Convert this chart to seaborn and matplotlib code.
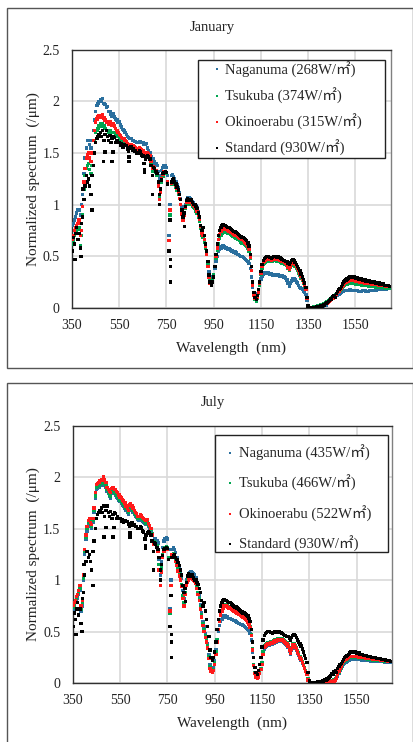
import numpy as np
import pandas as pd
import matplotlib
matplotlib.use("Agg")
import matplotlib.pyplot as plt
from matplotlib.patches import Rectangle
from matplotlib.lines import Line2D
import seaborn as sns

# Wavelength grid (nm), one sample every 5 nm
WAVELENGTH = list(range(350, 1701, 5))

# Normalized spectra (/um); each row covers 100 nm
STANDARD = [
    0.55, 0.68, 0.62, 0.72, 0.78, 0.66, 0.72, 0.58, 0.82, 0.88, 1.05, 1.18, 1.28, 1.22, 1.25, 1.18, 1.10, 1.28, 1.38, 1.50,
    1.60, 1.64, 1.66, 1.68, 1.70, 1.66, 1.72, 1.62, 1.68, 1.72, 1.66, 1.62, 1.67, 1.60, 1.64, 1.66, 1.65, 1.60, 1.62, 1.60,
    1.60, 1.57, 1.59, 1.56, 1.58, 1.57, 1.57, 1.54, 1.52, 1.55, 1.56, 1.53, 1.54, 1.52, 1.52, 1.50, 1.50, 1.52, 1.51, 1.48,
    1.47, 1.40, 1.44, 1.46, 1.47, 1.46, 1.44, 1.38, 1.28, 1.36, 1.35, 1.32, 1.30, 1.22, 1.10, 1.15, 1.24, 1.30, 1.31, 1.32,
    1.31, 1.20, 0.55, 0.85, 1.22, 1.24, 1.25, 1.22, 1.20, 1.17, 1.14, 1.10, 1.05, 0.95, 0.88, 0.92, 0.98, 1.04, 1.06, 1.05,
    1.04, 1.05, 1.02, 1.00, 1.00, 0.98, 0.96, 0.92, 0.88, 0.80, 0.75, 0.78, 0.70, 0.62, 0.55, 0.45, 0.32, 0.25, 0.22, 0.25,
    0.30, 0.40, 0.52, 0.62, 0.70, 0.75, 0.78, 0.80, 0.81, 0.80, 0.80, 0.79, 0.78, 0.78, 0.77, 0.76, 0.75, 0.74, 0.74, 0.73,
    0.72, 0.71, 0.70, 0.69, 0.68, 0.68, 0.67, 0.66, 0.65, 0.63, 0.60, 0.52, 0.40, 0.25, 0.15, 0.10, 0.08, 0.12, 0.18, 0.25,
    0.35, 0.42, 0.46, 0.48, 0.49, 0.50, 0.50, 0.49, 0.49, 0.48, 0.49, 0.50, 0.50, 0.49, 0.49, 0.50, 0.49, 0.48, 0.47, 0.46,
    0.46, 0.45, 0.45, 0.43, 0.42, 0.44, 0.46, 0.47, 0.46, 0.44, 0.42, 0.40, 0.38, 0.36, 0.33, 0.30, 0.27, 0.24, 0.20, 0.10,
    0.02, 0.00, 0.00, 0.00, 0.00, 0.00, 0.00, 0.01, 0.01, 0.01, 0.01, 0.02, 0.02, 0.03, 0.03, 0.04, 0.05, 0.06, 0.07, 0.09,
    0.08, 0.11, 0.12, 0.10, 0.14, 0.16, 0.18, 0.19, 0.21, 0.23, 0.25, 0.26, 0.27, 0.28, 0.29, 0.30, 0.30, 0.30, 0.30, 0.30,
    0.29, 0.29, 0.29, 0.28, 0.28, 0.28, 0.27, 0.27, 0.27, 0.26, 0.26, 0.26, 0.26, 0.25, 0.25, 0.25, 0.25, 0.24, 0.24, 0.24,
    0.24, 0.23, 0.23, 0.23, 0.23, 0.22, 0.22, 0.22, 0.22, 0.21, 0.21,
]

# Isolated deep points of the standard spectrum (absorption lines)
STANDARD_LINES_WL = [363, 388, 397, 435, 482, 490, 520, 524, 592, 592, 656, 656, 690, 720, 766, 766, 766, 826]
STANDARD_LINES_VAL = [0.47, 0.50, 1.15, 0.95, 1.42, 1.51, 1.42, 1.51, 1.46, 1.42, 1.34, 1.31, 1.10, 1.00, 0.47, 0.40, 0.25, 0.79]

JAN_NAGANUMA = [
    0.80, 0.82, 0.85, 0.88, 0.92, 0.95, 0.95, 0.90, 1.00, 1.10, 1.30, 1.45, 1.55, 1.62, 1.62, 1.58, 1.55, 1.62, 1.72, 1.82,
    1.90, 1.96, 1.98, 2.00, 2.02, 2.00, 2.03, 1.98, 1.97, 1.94, 1.95, 1.90, 1.90, 1.87, 1.86, 1.88, 1.85, 1.83, 1.82, 1.80,
    1.80, 1.77, 1.75, 1.73, 1.72, 1.70, 1.68, 1.66, 1.65, 1.64, 1.64, 1.62, 1.62, 1.61, 1.61, 1.60, 1.60, 1.61, 1.61, 1.60,
    1.60, 1.58, 1.58, 1.59, 1.55, 1.52, 1.50, 1.46, 1.40, 1.44, 1.42, 1.40, 1.38, 1.32, 1.25, 1.28, 1.33, 1.36, 1.38, 1.38,
    1.36, 1.28, 0.70, 1.00, 1.28, 1.29, 1.27, 1.25, 1.22, 1.19, 1.16, 1.12, 1.06, 0.98, 0.92, 0.96, 1.00, 1.05, 1.07, 1.07,
    1.06, 1.05, 1.03, 1.02, 1.00, 0.99, 0.97, 0.93, 0.88, 0.80, 0.72, 0.70, 0.66, 0.60, 0.52, 0.44, 0.35, 0.30, 0.28, 0.30,
    0.32, 0.38, 0.45, 0.50, 0.55, 0.57, 0.58, 0.59, 0.60, 0.59, 0.58, 0.58, 0.57, 0.57, 0.56, 0.55, 0.55, 0.54, 0.54, 0.53,
    0.52, 0.52, 0.51, 0.50, 0.50, 0.49, 0.48, 0.47, 0.46, 0.45, 0.43, 0.38, 0.30, 0.20, 0.15, 0.13, 0.12, 0.14, 0.16, 0.22,
    0.28, 0.31, 0.33, 0.34, 0.34, 0.34, 0.34, 0.33, 0.33, 0.33, 0.32, 0.32, 0.32, 0.32, 0.32, 0.32, 0.31, 0.31, 0.31, 0.30,
    0.30, 0.29, 0.27, 0.24, 0.21, 0.24, 0.26, 0.28, 0.28, 0.27, 0.25, 0.24, 0.22, 0.20, 0.19, 0.18, 0.16, 0.15, 0.13, 0.07,
    0.01, 0.00, 0.00, 0.00, 0.00, 0.00, 0.00, 0.00, 0.01, 0.01, 0.01, 0.01, 0.02, 0.02, 0.03, 0.03, 0.04, 0.05, 0.06, 0.07,
    0.08, 0.09, 0.10, 0.11, 0.12, 0.12, 0.13, 0.14, 0.15, 0.16, 0.16, 0.17, 0.17, 0.17, 0.17, 0.18, 0.18, 0.17, 0.17, 0.17,
    0.17, 0.17, 0.17, 0.16, 0.16, 0.16, 0.17, 0.17, 0.17, 0.16, 0.16, 0.16, 0.17, 0.17, 0.17, 0.17, 0.17, 0.17, 0.17, 0.18,
    0.18, 0.18, 0.18, 0.18, 0.18, 0.18, 0.18, 0.19, 0.19, 0.19, 0.19,
]
JAN_TSUKUBA = [
    0.62, 0.65, 0.70, 0.72, 0.75, 0.76, 0.78, 0.60, 0.70, 0.90, 1.15, 1.28, 1.35, 1.38, 1.40, 1.34, 1.30, 1.38, 1.50, 1.62,
    1.70, 1.72, 1.74, 1.76, 1.78, 1.76, 1.78, 1.76, 1.74, 1.72, 1.72, 1.70, 1.72, 1.70, 1.70, 1.70, 1.70, 1.68, 1.67, 1.66,
    1.64, 1.63, 1.62, 1.61, 1.60, 1.59, 1.58, 1.57, 1.56, 1.56, 1.56, 1.55, 1.54, 1.53, 1.53, 1.52, 1.51, 1.52, 1.52, 1.50,
    1.49, 1.47, 1.46, 1.47, 1.48, 1.47, 1.45, 1.40, 1.32, 1.35, 1.34, 1.31, 1.28, 1.18, 1.08, 1.14, 1.22, 1.27, 1.30, 1.31,
    1.30, 1.20, 0.55, 0.90, 1.20, 1.22, 1.23, 1.20, 1.17, 1.14, 1.10, 1.06, 1.00, 0.92, 0.85, 0.90, 0.96, 1.00, 1.02, 1.02,
    1.00, 1.00, 0.98, 0.97, 0.96, 0.94, 0.92, 0.88, 0.84, 0.77, 0.70, 0.68, 0.64, 0.58, 0.52, 0.42, 0.32, 0.27, 0.25, 0.28,
    0.32, 0.40, 0.48, 0.56, 0.62, 0.67, 0.70, 0.72, 0.74, 0.74, 0.73, 0.73, 0.72, 0.72, 0.71, 0.70, 0.69, 0.69, 0.68, 0.67,
    0.66, 0.66, 0.65, 0.64, 0.63, 0.63, 0.62, 0.61, 0.60, 0.58, 0.55, 0.48, 0.36, 0.22, 0.12, 0.08, 0.06, 0.09, 0.14, 0.22,
    0.33, 0.38, 0.42, 0.43, 0.44, 0.45, 0.45, 0.45, 0.45, 0.45, 0.45, 0.46, 0.46, 0.45, 0.45, 0.45, 0.45, 0.44, 0.43, 0.43,
    0.42, 0.42, 0.41, 0.38, 0.36, 0.39, 0.41, 0.42, 0.41, 0.40, 0.38, 0.36, 0.34, 0.32, 0.29, 0.27, 0.24, 0.21, 0.18, 0.09,
    0.01, 0.00, 0.00, 0.00, 0.00, 0.01, 0.01, 0.01, 0.02, 0.02, 0.02, 0.03, 0.03, 0.04, 0.04, 0.05, 0.06, 0.07, 0.08, 0.09,
    0.10, 0.11, 0.12, 0.13, 0.14, 0.15, 0.16, 0.17, 0.18, 0.20, 0.21, 0.22, 0.23, 0.23, 0.24, 0.24, 0.24, 0.24, 0.24, 0.24,
    0.23, 0.23, 0.23, 0.23, 0.23, 0.22, 0.22, 0.22, 0.22, 0.22, 0.22, 0.21, 0.21, 0.21, 0.21, 0.21, 0.21, 0.20, 0.20, 0.20,
    0.20, 0.20, 0.20, 0.20, 0.20, 0.19, 0.19, 0.19, 0.19, 0.19, 0.19,
]
JAN_OKINOERABU = [
    0.66, 0.70, 0.75, 0.78, 0.80, 0.82, 0.85, 0.70, 0.75, 0.98, 1.22, 1.35, 1.45, 1.48, 1.50, 1.45, 1.42, 1.50, 1.62, 1.72,
    1.80, 1.83, 1.85, 1.86, 1.86, 1.85, 1.87, 1.84, 1.82, 1.80, 1.80, 1.78, 1.80, 1.78, 1.77, 1.78, 1.76, 1.74, 1.72, 1.70,
    1.68, 1.67, 1.65, 1.64, 1.64, 1.62, 1.61, 1.59, 1.58, 1.58, 1.58, 1.57, 1.57, 1.56, 1.55, 1.54, 1.54, 1.55, 1.54, 1.53,
    1.52, 1.50, 1.49, 1.50, 1.50, 1.49, 1.47, 1.42, 1.35, 1.37, 1.36, 1.33, 1.30, 1.18, 1.05, 1.12, 1.25, 1.29, 1.32, 1.32,
    1.31, 1.22, 0.65, 0.95, 1.21, 1.24, 1.25, 1.22, 1.19, 1.16, 1.12, 1.06, 1.00, 0.91, 0.85, 0.90, 0.97, 1.02, 1.04, 1.04,
    1.02, 1.02, 1.00, 0.99, 0.98, 0.96, 0.94, 0.90, 0.86, 0.79, 0.72, 0.70, 0.66, 0.60, 0.52, 0.40, 0.30, 0.24, 0.22, 0.25,
    0.30, 0.40, 0.50, 0.58, 0.66, 0.71, 0.74, 0.76, 0.77, 0.77, 0.76, 0.76, 0.75, 0.74, 0.73, 0.73, 0.72, 0.71, 0.70, 0.70,
    0.69, 0.68, 0.67, 0.67, 0.66, 0.65, 0.64, 0.63, 0.62, 0.60, 0.57, 0.49, 0.36, 0.22, 0.12, 0.09, 0.08, 0.10, 0.15, 0.24,
    0.34, 0.40, 0.44, 0.45, 0.46, 0.47, 0.47, 0.47, 0.47, 0.46, 0.47, 0.47, 0.47, 0.47, 0.47, 0.47, 0.46, 0.46, 0.45, 0.45,
    0.44, 0.43, 0.42, 0.39, 0.37, 0.40, 0.43, 0.44, 0.43, 0.42, 0.40, 0.38, 0.36, 0.34, 0.31, 0.28, 0.25, 0.22, 0.18, 0.09,
    0.01, 0.00, 0.00, 0.00, 0.00, 0.00, 0.00, 0.01, 0.01, 0.01, 0.01, 0.02, 0.02, 0.03, 0.03, 0.04, 0.04, 0.05, 0.06, 0.07,
    0.08, 0.09, 0.10, 0.12, 0.13, 0.15, 0.16, 0.18, 0.19, 0.21, 0.22, 0.24, 0.25, 0.26, 0.26, 0.27, 0.27, 0.27, 0.27, 0.27,
    0.26, 0.26, 0.26, 0.26, 0.25, 0.25, 0.25, 0.25, 0.24, 0.24, 0.24, 0.24, 0.24, 0.24, 0.23, 0.23, 0.23, 0.23, 0.23, 0.23,
    0.22, 0.22, 0.22, 0.22, 0.22, 0.22, 0.21, 0.21, 0.21, 0.21, 0.21,
]

JUL_NAGANUMA = [
    0.72, 0.75, 0.78, 0.80, 0.82, 0.86, 0.90, 0.70, 0.75, 1.00, 1.25, 1.40, 1.48, 1.54, 1.56, 1.52, 1.50, 1.56, 1.66, 1.80,
    1.88, 1.89, 1.90, 1.92, 1.93, 1.92, 1.96, 1.93, 1.90, 1.86, 1.84, 1.82, 1.80, 1.84, 1.85, 1.84, 1.83, 1.81, 1.80, 1.78,
    1.77, 1.75, 1.73, 1.72, 1.70, 1.68, 1.66, 1.64, 1.68, 1.69, 1.68, 1.66, 1.64, 1.62, 1.61, 1.59, 1.58, 1.60, 1.59, 1.57,
    1.56, 1.55, 1.54, 1.54, 1.52, 1.50, 1.48, 1.44, 1.38, 1.40, 1.40, 1.38, 1.36, 1.20, 1.05, 1.18, 1.32, 1.38, 1.40, 1.41,
    1.40, 1.30, 0.72, 1.00, 1.30, 1.32, 1.30, 1.27, 1.22, 1.17, 1.12, 1.08, 1.02, 0.90, 0.82, 0.92, 1.00, 1.04, 1.06, 1.07,
    1.08, 1.07, 1.06, 1.05, 1.02, 0.98, 0.92, 0.85, 0.76, 0.68, 0.60, 0.55, 0.48, 0.44, 0.38, 0.28, 0.18, 0.14, 0.12, 0.15,
    0.22, 0.32, 0.42, 0.50, 0.56, 0.60, 0.62, 0.64, 0.65, 0.65, 0.64, 0.64, 0.63, 0.63, 0.62, 0.62, 0.61, 0.61, 0.60, 0.59,
    0.58, 0.58, 0.57, 0.57, 0.56, 0.55, 0.54, 0.53, 0.52, 0.51, 0.48, 0.42, 0.30, 0.18, 0.10, 0.07, 0.06, 0.07, 0.10, 0.14,
    0.20, 0.28, 0.33, 0.35, 0.36, 0.37, 0.37, 0.38, 0.38, 0.38, 0.39, 0.40, 0.40, 0.41, 0.41, 0.41, 0.41, 0.41, 0.40, 0.39,
    0.38, 0.37, 0.35, 0.31, 0.28, 0.32, 0.36, 0.36, 0.34, 0.32, 0.29, 0.27, 0.24, 0.22, 0.19, 0.17, 0.14, 0.11, 0.08, 0.03,
    0.00, 0.00, 0.00, 0.00, 0.00, 0.00, 0.00, 0.00, 0.00, 0.00, 0.00, 0.00, 0.01, 0.01, 0.02, 0.02, 0.03, 0.03, 0.02, 0.02,
    0.02, 0.03, 0.04, 0.05, 0.07, 0.09, 0.12, 0.14, 0.16, 0.18, 0.19, 0.20, 0.21, 0.22, 0.22, 0.23, 0.23, 0.23, 0.23, 0.23,
    0.23, 0.23, 0.23, 0.23, 0.22, 0.22, 0.22, 0.22, 0.22, 0.22, 0.22, 0.22, 0.21, 0.21, 0.21, 0.21, 0.21, 0.21, 0.21, 0.21,
    0.21, 0.21, 0.21, 0.21, 0.20, 0.20, 0.20, 0.20, 0.20, 0.20, 0.20,
]
JUL_TSUKUBA = [
    0.74, 0.76, 0.78, 0.82, 0.85, 0.88, 0.92, 0.72, 0.78, 1.02, 1.28, 1.42, 1.50, 1.56, 1.58, 1.54, 1.52, 1.58, 1.68, 1.82,
    1.90, 1.91, 1.92, 1.94, 1.95, 1.94, 1.97, 1.95, 1.92, 1.88, 1.85, 1.83, 1.82, 1.86, 1.86, 1.85, 1.84, 1.83, 1.82, 1.80,
    1.78, 1.77, 1.75, 1.74, 1.72, 1.70, 1.68, 1.66, 1.70, 1.71, 1.70, 1.68, 1.65, 1.64, 1.62, 1.60, 1.60, 1.62, 1.61, 1.59,
    1.58, 1.57, 1.55, 1.56, 1.53, 1.52, 1.49, 1.45, 1.36, 1.37, 1.36, 1.34, 1.30, 1.15, 1.00, 1.12, 1.25, 1.30, 1.32, 1.33,
    1.32, 1.22, 0.68, 0.95, 1.25, 1.26, 1.24, 1.20, 1.16, 1.11, 1.06, 1.02, 0.96, 0.85, 0.78, 0.88, 0.96, 1.00, 1.02, 1.03,
    1.03, 1.02, 1.01, 1.00, 0.98, 0.94, 0.88, 0.82, 0.74, 0.66, 0.58, 0.52, 0.46, 0.42, 0.36, 0.26, 0.16, 0.12, 0.10, 0.13,
    0.20, 0.30, 0.42, 0.52, 0.60, 0.66, 0.70, 0.74, 0.76, 0.76, 0.75, 0.75, 0.74, 0.73, 0.72, 0.72, 0.71, 0.71, 0.70, 0.69,
    0.68, 0.68, 0.67, 0.66, 0.65, 0.64, 0.63, 0.62, 0.60, 0.58, 0.55, 0.47, 0.33, 0.18, 0.10, 0.06, 0.05, 0.06, 0.10, 0.14,
    0.20, 0.30, 0.36, 0.37, 0.38, 0.39, 0.39, 0.40, 0.40, 0.40, 0.41, 0.42, 0.42, 0.43, 0.43, 0.43, 0.43, 0.43, 0.42, 0.41,
    0.40, 0.39, 0.37, 0.33, 0.30, 0.34, 0.38, 0.38, 0.36, 0.34, 0.31, 0.29, 0.26, 0.24, 0.21, 0.18, 0.15, 0.12, 0.09, 0.04,
    0.00, 0.00, 0.00, 0.00, 0.00, 0.00, 0.00, 0.00, 0.00, 0.00, 0.00, 0.00, 0.01, 0.01, 0.02, 0.02, 0.03, 0.03, 0.02, 0.02,
    0.02, 0.03, 0.04, 0.06, 0.08, 0.10, 0.13, 0.15, 0.18, 0.20, 0.21, 0.22, 0.23, 0.24, 0.25, 0.25, 0.25, 0.25, 0.25, 0.25,
    0.25, 0.25, 0.25, 0.24, 0.24, 0.24, 0.24, 0.24, 0.24, 0.23, 0.23, 0.23, 0.23, 0.23, 0.22, 0.22, 0.22, 0.22, 0.22, 0.22,
    0.22, 0.22, 0.22, 0.21, 0.21, 0.21, 0.21, 0.21, 0.21, 0.21, 0.21,
]
JUL_OKINOERABU = [
    0.76, 0.78, 0.80, 0.84, 0.86, 0.90, 0.95, 0.75, 0.80, 1.05, 1.30, 1.44, 1.52, 1.58, 1.60, 1.56, 1.54, 1.60, 1.70, 1.85,
    1.93, 1.94, 1.95, 1.97, 1.98, 1.97, 2.01, 1.98, 1.95, 1.90, 1.88, 1.86, 1.85, 1.89, 1.90, 1.88, 1.88, 1.86, 1.85, 1.83,
    1.81, 1.80, 1.78, 1.77, 1.75, 1.72, 1.70, 1.68, 1.73, 1.74, 1.72, 1.70, 1.68, 1.66, 1.65, 1.62, 1.62, 1.64, 1.63, 1.61,
    1.60, 1.59, 1.58, 1.59, 1.55, 1.53, 1.50, 1.44, 1.35, 1.36, 1.35, 1.32, 1.28, 1.10, 0.95, 1.08, 1.22, 1.28, 1.30, 1.31,
    1.30, 1.20, 0.70, 0.95, 1.25, 1.25, 1.22, 1.18, 1.14, 1.09, 1.04, 1.00, 0.94, 0.82, 0.75, 0.86, 0.95, 0.98, 1.00, 1.02,
    1.02, 1.01, 1.00, 0.99, 0.97, 0.92, 0.86, 0.80, 0.72, 0.64, 0.56, 0.50, 0.44, 0.40, 0.34, 0.24, 0.14, 0.11, 0.10, 0.12,
    0.18, 0.28, 0.40, 0.52, 0.60, 0.66, 0.70, 0.73, 0.75, 0.75, 0.75, 0.74, 0.73, 0.73, 0.72, 0.71, 0.70, 0.70, 0.69, 0.68,
    0.67, 0.67, 0.66, 0.65, 0.64, 0.63, 0.62, 0.61, 0.59, 0.57, 0.54, 0.46, 0.32, 0.17, 0.09, 0.06, 0.05, 0.06, 0.09, 0.13,
    0.18, 0.28, 0.35, 0.36, 0.37, 0.38, 0.38, 0.39, 0.39, 0.39, 0.40, 0.41, 0.41, 0.42, 0.42, 0.42, 0.42, 0.42, 0.41, 0.40,
    0.39, 0.38, 0.36, 0.32, 0.29, 0.33, 0.37, 0.37, 0.35, 0.33, 0.30, 0.28, 0.25, 0.23, 0.20, 0.17, 0.14, 0.11, 0.08, 0.03,
    0.00, 0.00, 0.00, 0.00, 0.00, 0.00, 0.00, 0.00, 0.00, 0.00, 0.00, 0.00, 0.00, 0.00, 0.01, 0.01, 0.02, 0.02, 0.01, 0.01,
    0.01, 0.02, 0.03, 0.05, 0.08, 0.11, 0.14, 0.16, 0.19, 0.21, 0.22, 0.23, 0.24, 0.25, 0.26, 0.26, 0.26, 0.26, 0.26, 0.26,
    0.26, 0.26, 0.25, 0.25, 0.25, 0.25, 0.25, 0.25, 0.24, 0.24, 0.24, 0.24, 0.24, 0.24, 0.23, 0.23, 0.23, 0.23, 0.23, 0.23,
    0.22, 0.22, 0.22, 0.22, 0.22, 0.22, 0.21, 0.21, 0.21, 0.21, 0.21,
]

SERIES = ["Naganuma", "Tsukuba", "Okinoerabu", "Standard"]
COLORS = {"Naganuma": "#2a6f9e", "Tsukuba": "#00a650", "Okinoerabu": "#ff1a1a", "Standard": "#000000"}

JAN_LABELS = ["Naganuma (268W/\u33a1)", "Tsukuba (374W/\u33a1)",
              "Okinoerabu (315W/\u33a1)", "Standard (930W/\u33a1)"]
JUL_LABELS = ["Naganuma (435W/\u33a1)", "Tsukuba (466W/\u33a1)",
              "Okinoerabu (522W\u33a1)", "Standard (930W/\u33a1)"]

X_TICKS = [350, 550, 750, 950, 1150, 1350, 1550]
Y_TICKS = [0, 0.5, 1, 1.5, 2, 2.5]
Y_TICK_LABELS = ["0", "0.5", "1", "1.5", "2", "2.5"]

sns.set_theme(style="white")
FONT = ["Liberation Serif", "Noto Sans CJK JP", "DejaVu Sans"]
plt.rcParams["font.family"] = FONT


def long_table(naganuma, tsukuba, okinoerabu):
    frames = []
    for name, vals in zip(SERIES[:3], [naganuma, tsukuba, okinoerabu]):
        frames.append(pd.DataFrame({"Wavelength": WAVELENGTH, "Value": vals, "Series": name}))
    frames.append(pd.DataFrame({"Wavelength": WAVELENGTH, "Value": STANDARD, "Series": "Standard"}))
    frames.append(pd.DataFrame({"Wavelength": STANDARD_LINES_WL, "Value": STANDARD_LINES_VAL,
                                "Series": "Standard"}))
    return pd.concat(frames, ignore_index=True)


def draw_panel(ax, data, labels, box, legend_anchor, spacing):
    sns.scatterplot(data=data, x="Wavelength", y="Value", hue="Series", hue_order=SERIES,
                    palette=COLORS, s=6, linewidth=0, marker="s", legend=False, ax=ax, zorder=3)
    ax.set_xlim(350, 1700)
    ax.set_ylim(0, 2.5)
    ax.set_xticks(X_TICKS)
    ax.set_xticklabels([str(t) for t in X_TICKS], fontsize=10)
    ax.set_yticks(Y_TICKS)
    ax.set_yticklabels(Y_TICK_LABELS, fontsize=10)
    ax.tick_params(axis="both", length=0, colors="#222222")
    ax.tick_params(axis="x", pad=8)
    ax.tick_params(axis="y", pad=9)
    ax.grid(True, color="#d9d9d9", linewidth=1.2, zorder=0)
    ax.set_axisbelow(True)
    for side in ["left", "bottom", "top"]:
        ax.spines[side].set_color("#303030")
        ax.spines[side].set_linewidth(1.0)
    ax.spines["right"].set_color("#808080")
    ax.spines["right"].set_linewidth(1.0)
    ax.set_xlabel("Wavelength  (nm)", fontsize=11, labelpad=7, color="#222222")
    ax.set_ylabel("Normalized spectrum  (/\u03bcm)", fontsize=11, labelpad=2, color="#222222")

    # legend box
    x0, y0, x1, y1 = box
    ax.add_patch(Rectangle((x0, y0), x1 - x0, y1 - y0, transform=ax.transAxes,
                           facecolor="white", edgecolor="#222222", linewidth=1.0, zorder=5))
    handles = [Line2D([0], [0], marker="s", linestyle="none", markersize=1.8,
                      markerfacecolor=COLORS[s], markeredgewidth=0) for s in SERIES]
    leg = ax.legend(handles, labels, loc="upper left", bbox_to_anchor=legend_anchor,
                    frameon=False, fontsize=10.5, labelspacing=spacing,
                    handlelength=0.6, handletextpad=0.3, borderpad=0.0, borderaxespad=0.0)
    leg.set_zorder(6)
    return leg


fig = plt.figure(figsize=(4.14, 7.42), dpi=100)
fig.patch.set_facecolor("white")

# Outer frames around each panel
fig.add_artist(Rectangle((0.017, 0.504), 0.981, 0.485, transform=fig.transFigure,
                         fill=False, edgecolor="#555555", linewidth=1.0))
fig.add_artist(Rectangle((0.017, -0.01), 0.981, 0.494, transform=fig.transFigure,
                         fill=False, edgecolor="#555555", linewidth=1.0))

ax1 = fig.add_axes([0.174, 0.585, 0.770, 0.348])
draw_panel(ax1, long_table(JAN_NAGANUMA, JAN_TSUKUBA, JAN_OKINOERABU), JAN_LABELS,
           (0.395, 0.581, 0.981, 0.961), (0.440, 0.954), 0.70)
fig.text(0.512, 0.9636, "January", ha="center", va="center", fontsize=10.5, color="#222222")

ax2 = fig.add_axes([0.176, 0.0795, 0.771, 0.3465])
draw_panel(ax2, long_table(JUL_NAGANUMA, JUL_TSUKUBA, JUL_OKINOERABU), JUL_LABELS,
           (0.445, 0.510, 0.987, 0.965), (0.478, 0.926), 0.99)
fig.text(0.514, 0.458, "July", ha="center", va="center", fontsize=10.5, color="#222222")

fig.savefig("out.png", dpi=100)
